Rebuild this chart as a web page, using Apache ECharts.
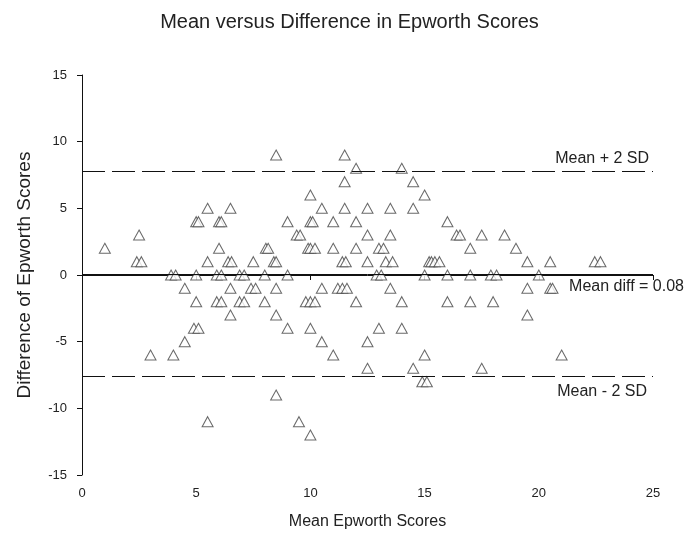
<!DOCTYPE html>
<html>
<head>
<meta charset="utf-8">
<script src="https://cdn.jsdelivr.net/npm/echarts@6/dist/echarts.min.js"></script>
<style>
  html, body { margin: 0; padding: 0; background: #fff; }
  #chart { width: 699px; height: 541px; }
</style>
</head>
<body>
<div id="chart"></div>
<script>
// Bland-Altman style: mean of two Epworth scores vs their difference
const meanScores = [
  8.5, 11.5,
  12, 14,
  11.5, 14.5,
  10, 15,
  5.5, 6.5, 10.5, 11.5, 12.5, 13.5, 14.5,
  5, 5.1, 6, 6.1, 9, 10, 10.1, 11, 12, 16,
  2.5, 9.4, 9.55, 12.5, 13.5, 16.4, 16.55, 17.5, 18.5,
  1, 6, 8.05, 8.15, 9.9, 10, 10.2, 11, 12, 13, 13.2, 17, 19,
  2.4, 2.6, 5.5, 6.4, 6.55, 7.5, 8.4, 8.5, 11.4, 11.55, 12.5, 13.3, 13.6, 15.2, 15.3, 15.45, 15.65, 19.5, 20.5, 22.45, 22.7,
  3.9, 4.1, 5, 5.9, 6.1, 6.9, 7.1, 8, 9, 12.9, 13.1, 15, 16, 17, 17.9, 18.15, 20,
  4.5, 6.5, 7.4, 7.6, 8.5, 10.5, 11.2, 11.4, 11.6, 13.5, 19.5, 20.5, 20.6,
  5, 5.9, 6.1, 6.9, 7.1, 8, 9.8, 10, 10.2, 12, 14, 16, 17, 18,
  6.5, 8.5, 19.5,
  4.9, 5.1, 9, 10, 13, 14,
  4.5, 10.5, 12.5,
  3, 4, 11, 15, 21,
  12.5, 14.5, 17.5,
  14.9, 15.1,
  8.5,
  5.5, 9.5,
  10
];
const diffScores = [
  9, 9,
  8, 8,
  7, 7,
  6, 6,
  5, 5, 5, 5, 5, 5, 5,
  4, 4, 4, 4, 4, 4, 4, 4, 4, 4,
  3, 3, 3, 3, 3, 3, 3, 3, 3,
  2, 2, 2, 2, 2, 2, 2, 2, 2, 2, 2, 2, 2,
  1, 1, 1, 1, 1, 1, 1, 1, 1, 1, 1, 1, 1, 1, 1, 1, 1, 1, 1, 1, 1,
  0, 0, 0, 0, 0, 0, 0, 0, 0, 0, 0, 0, 0, 0, 0, 0, 0,
  -1, -1, -1, -1, -1, -1, -1, -1, -1, -1, -1, -1, -1,
  -2, -2, -2, -2, -2, -2, -2, -2, -2, -2, -2, -2, -2, -2,
  -3, -3, -3,
  -4, -4, -4, -4, -4, -4,
  -5, -5, -5,
  -6, -6, -6, -6, -6,
  -7, -7, -7,
  -8, -8,
  -9,
  -11, -11,
  -12
];
const meanDiff = 0.08;
const upperLimit = 7.78;
const lowerLimit = -7.62;
const xTicks = [0, 5, 10, 15, 20, 25];
const yTicks = [-15, -10, -5, 0, 5, 10, 15];

const font = 'Liberation Sans, Arial, sans-serif';
const textColor = '#222';

const points = meanScores.map((m, i) => [m, diffScores[i]]);

const chart = echarts.init(document.getElementById('chart'));
chart.setOption({
  backgroundColor: '#fff',
  animation: false,
  title: {
    text: 'Mean versus Difference in Epworth Scores',
    left: 'center',
    top: 7,
    textStyle: { fontFamily: font, fontSize: 20, fontWeight: 'normal', color: textColor }
  },
  grid: { left: 82, right: 46, top: 75, bottom: 66 },
  xAxis: {
    type: 'value',
    min: xTicks[0],
    max: xTicks[xTicks.length - 1],
    interval: 5,
    name: 'Mean Epworth Scores',
    nameLocation: 'middle',
    nameGap: 39,
    nameTextStyle: { fontFamily: font, fontSize: 16, color: textColor },
    axisLine: { lineStyle: { color: '#111', width: 1 } },
    axisTick: { length: 5, lineStyle: { color: '#111' } },
    axisLabel: { fontFamily: font, fontSize: 13, color: textColor, margin: 12 },
    splitLine: { show: false }
  },
  yAxis: {
    type: 'value',
    min: yTicks[0],
    max: yTicks[yTicks.length - 1],
    interval: 5,
    name: 'Difference of Epworth Scores',
    nameLocation: 'middle',
    nameGap: 48,
    nameTextStyle: { fontFamily: font, fontSize: 19, color: textColor },
    axisLine: { lineStyle: { color: '#111', width: 1 } },
    axisTick: { length: 5, lineStyle: { color: '#111' } },
    axisLabel: { fontFamily: font, fontSize: 13, color: textColor, margin: 15 },
    splitLine: { show: false }
  },
  series: [{
    type: 'scatter',
    data: points,
    symbol: 'triangle',
    symbolSize: [11, 10],
    itemStyle: { color: '#fff', borderColor: '#444', borderWidth: 1 },
    markLine: {
      silent: true,
      symbol: 'none',
      animation: false,
      data: [
        {
          yAxis: upperLimit,
          lineStyle: { color: '#111', width: 1.2, type: [23, 7] },
          label: { formatter: 'Mean + 2 SD', position: 'insideEndTop', distance: [4, 5] }
        },
        {
          yAxis: meanDiff,
          lineStyle: { color: '#111', width: 1, type: 'solid' },
          label: { formatter: 'Mean diff = 0.08', position: 'insideEndBottom', distance: [-31, 5] }
        },
        {
          yAxis: lowerLimit,
          lineStyle: { color: '#111', width: 1.2, type: [23, 7] },
          label: { formatter: 'Mean - 2 SD', position: 'insideEndBottom', distance: [6, 7] }
        }
      ],
      label: { fontFamily: font, fontSize: 16, color: textColor }
    }
  }]
});
</script>
</body>
</html>
